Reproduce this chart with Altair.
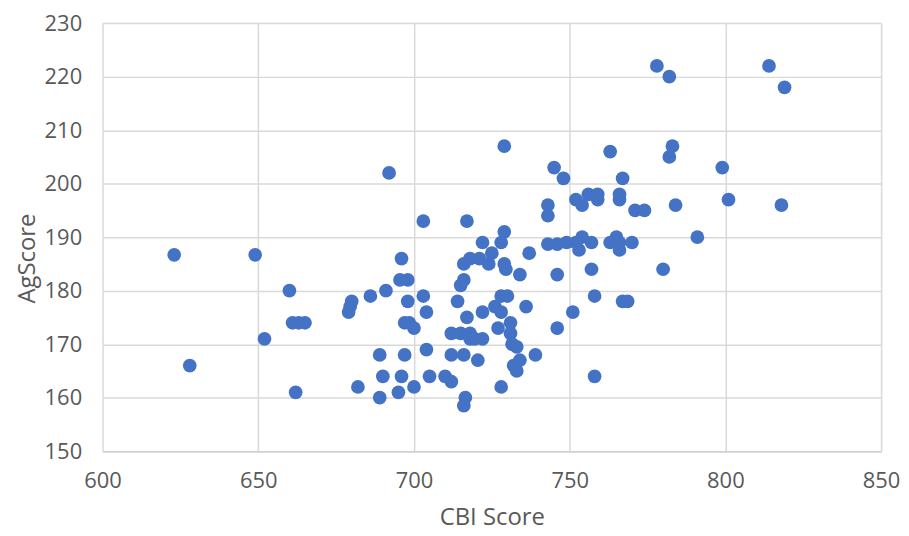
import altair as alt
import pandas as pd

cbi = [623, 628, 649, 652, 660, 661, 663, 665, 662, 679, 679.5, 680, 682, 686, 689, 689,
       690, 691, 692, 695, 696, 696, 695.5, 698, 697, 698.5, 700, 697, 698, 700, 703, 703,
       704, 704, 705, 710, 712, 712, 712, 714, 715, 715, 716, 716, 716, 716, 716.5, 718,
       717, 717, 718, 718, 719.5, 720.5, 721, 722, 722, 722, 724, 725, 726, 727, 728, 728,
       728, 728, 729, 729, 729, 729.5, 730, 731, 731, 731.5, 733, 732, 733, 734, 734, 736,
       737, 739, 743, 743, 743, 745, 746, 746, 746, 748, 749, 751, 752, 752, 753, 754, 754,
       757, 756, 757, 758, 758, 759, 759, 763, 763, 765, 766, 766, 766, 766, 767, 767,
       768.6, 770, 771, 774, 778, 780, 782, 782, 783, 784, 791, 799, 801, 814, 818, 819]
ag = [186.7, 166, 186.7, 171, 180, 174, 174, 174, 161, 176, 177, 178, 162, 179, 160, 168,
      164, 180, 202, 161, 164, 186, 182, 182, 174, 174, 173, 168, 178, 162, 179, 193,
      176, 169, 164, 164, 163, 172, 168, 178, 181, 172, 182, 185, 168, 158.5, 160, 186,
      193, 175, 172, 171, 171, 167, 186, 171, 176, 189, 185, 187, 177, 173, 176, 162,
      189, 179, 207, 191, 185, 184, 179, 174, 172, 170, 169.5, 166, 165, 183, 167, 177,
      187, 168, 188.7, 194, 196, 203, 188.7, 183, 173, 201, 189, 176, 197, 189, 187.6, 196, 190,
      189, 198, 184, 179, 164, 197, 198, 206, 189, 190, 189, 197, 198, 187.6, 201, 178,
      178, 189, 195, 195, 222, 184, 220, 205, 207, 196, 190, 203, 197, 222, 196, 218]

x_ticks = [600, 650, 700, 750, 800, 850]
y_ticks = [150, 160, 170, 180, 190, 200, 210, 220, 230]

df = pd.DataFrame({"CBI Score": cbi, "AgScore": ag})

font = "Open Sans"
txt = "#595959"
grid = "#d9d9d9"

chart = alt.Chart(df).mark_circle(size=190, opacity=1, color="#4472C4").encode(
    x=alt.X("CBI Score:Q",
            scale=alt.Scale(domain=[600, 850], nice=False, zero=False),
            axis=alt.Axis(values=x_ticks, title="CBI Score", grid=True, gridColor=grid,
                          gridWidth=1.5, domain=True, domainColor="#cfcfcf", domainWidth=1.5,
                          ticks=False, tickSize=0, labelPadding=19, labelFontSize=22,
                          labelFont=font, labelColor=txt, titleFont=font, titleFontSize=24,
                          titleFontWeight="normal", titleColor=txt, titleBaseline="alphabetic",
                          titleY=74, labelFlush=False)),
    y=alt.Y("AgScore:Q",
            scale=alt.Scale(domain=[150, 230], nice=False, zero=False),
            axis=alt.Axis(values=y_ticks, title="AgScore", grid=True, gridColor=grid,
                          gridWidth=1.5, domain=False, ticks=False, tickSize=0,
                          labelPadding=21, labelFontSize=22, labelFont=font, labelColor=txt,
                          titleFont=font, titleFontSize=24, titleFontWeight="normal",
                          titleColor=txt, titleBaseline="alphabetic", titleX=-68, titleY=236,
                          titleAlign="center", titleAngle=270, labelFlush=False)),
).properties(
    width=782, height=430,
    autosize=alt.AutoSizeParams(type="none"),
    padding={"left": 95, "top": 14, "right": 20, "bottom": 84},
).configure_view(stroke=None)

chart.save("out.html", embed_options={"renderer": "svg", "actions": False})
